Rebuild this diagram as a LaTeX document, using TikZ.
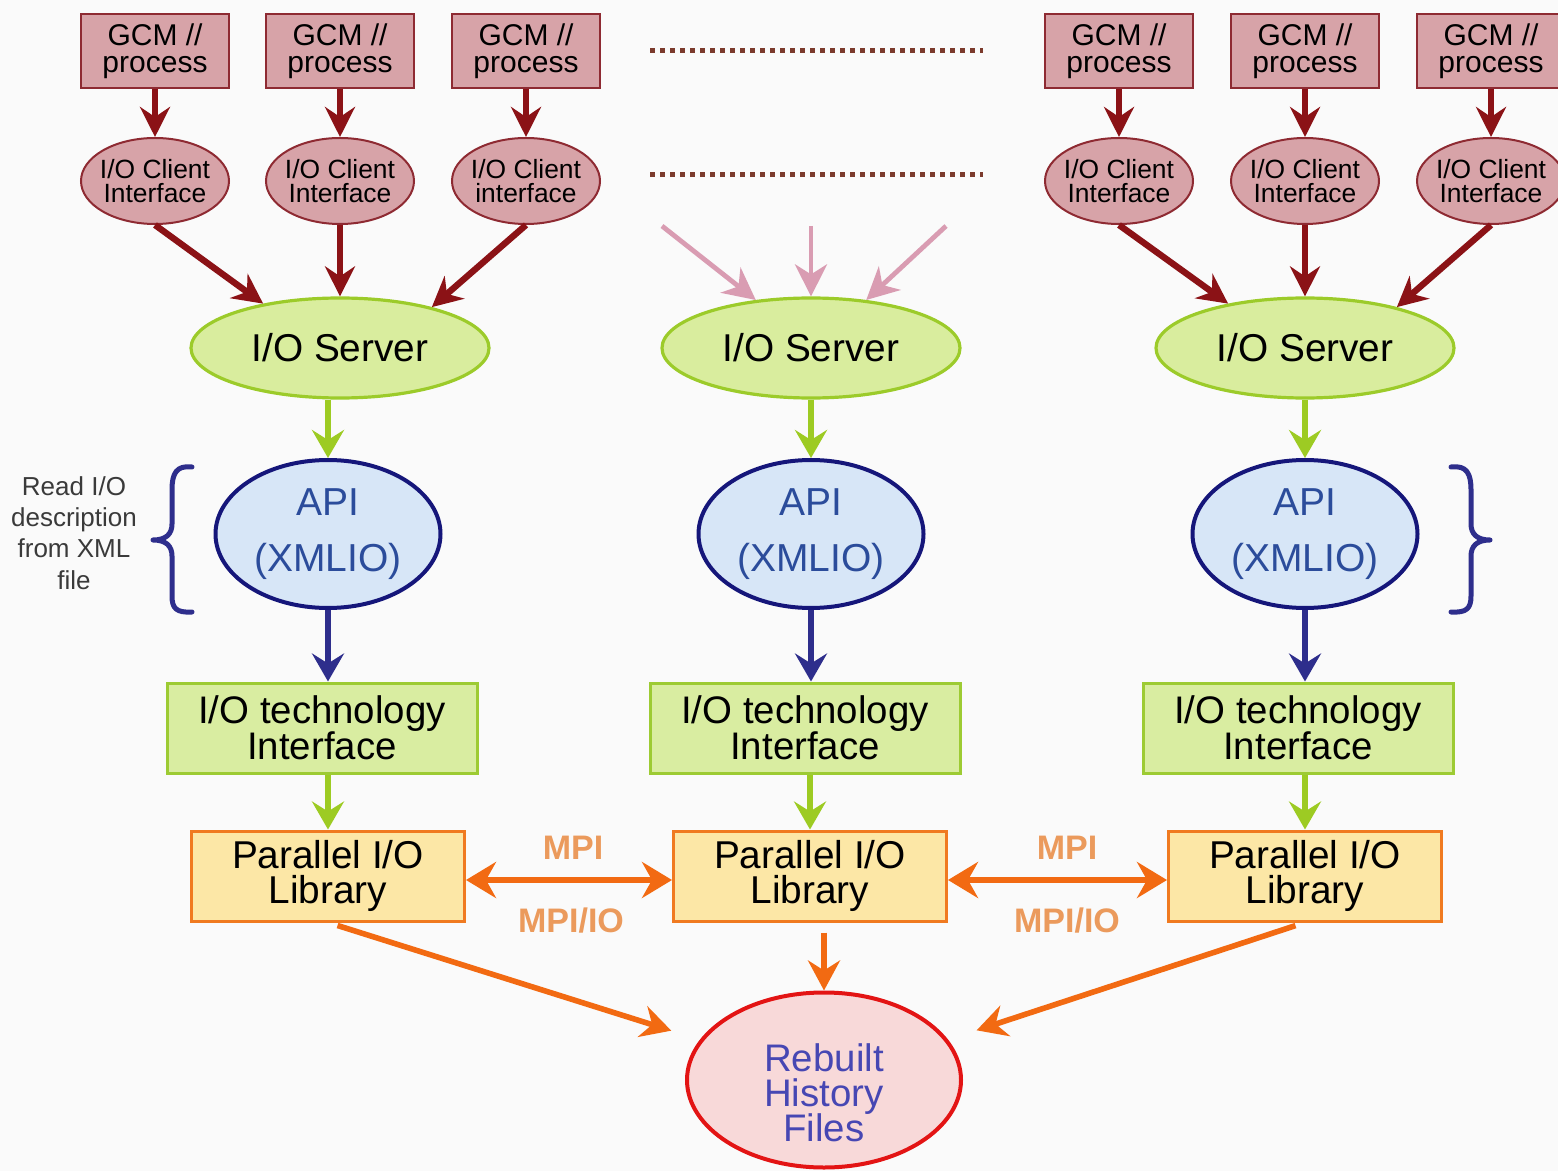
\documentclass[tikz,border=0pt]{standalone}
\usepackage{fontspec}
\setmainfont{Liberation Sans}
\usetikzlibrary{arrows.meta,shapes.geometric,calc}
\newcommand\tightlines{\lineskiplimit=-20pt\relax}
\definecolor{gcmfill}{HTML}{D7A3A8}
\definecolor{gcmdraw}{HTML}{8E2A32}
\definecolor{darkred}{HTML}{8B1216}
\definecolor{srvfill}{HTML}{D9ED9E}
\definecolor{srvdraw}{HTML}{9CCB2A}
\definecolor{grn}{HTML}{9DCB23}
\definecolor{apifill}{HTML}{D7E6F7}
\definecolor{apidraw}{HTML}{15167A}
\definecolor{apitext}{HTML}{2B4C9B}
\definecolor{navy}{HTML}{2E2E8C}
\definecolor{techfill}{HTML}{D9EDA1}
\definecolor{techdraw}{HTML}{9DCB33}
\definecolor{parfill}{HTML}{FCE7A6}
\definecolor{pardraw}{HTML}{F07A20}
\definecolor{orng}{HTML}{F26A12}
\definecolor{mpitext}{HTML}{EB9A5C}
\definecolor{rebfill}{HTML}{F8D9D9}
\definecolor{rebdraw}{HTML}{E31414}
\definecolor{rebtext}{HTML}{4747B3}
\definecolor{dotc}{HTML}{7B3A2C}
\definecolor{pinkarr}{HTML}{D99CB2}
\definecolor{bg}{HTML}{FAFAFA}
\begin{document}
\begin{tikzpicture}[x=0.5pt,y=-0.5pt,
  gcm/.style={rectangle,draw=gcmdraw,fill=gcmfill,line width=1pt,minimum width=74pt,minimum height=37pt,inner sep=0pt,align=center,font={\fontsize{15}{13.5}\selectfont\tightlines}},
  client/.style={ellipse,draw=gcmdraw,fill=gcmfill,line width=1pt,minimum width=74pt,minimum height=43pt,inner sep=-6pt,align=center,font={\fontsize{13.2}{12}\selectfont\tightlines}},
  server/.style={ellipse,draw=srvdraw,fill=srvfill,line width=1.6pt,minimum width=149pt,minimum height=50pt,inner sep=0pt,font={\fontsize{19.4}{20}\selectfont}},
  api/.style={ellipse,draw=apidraw,fill=apifill,line width=2pt,minimum width=112.5pt,minimum height=74pt,inner sep=0pt,align=center,text=apitext,font={\fontsize{19.5}{28}\selectfont}},
  tech/.style={rectangle,draw=techdraw,fill=techfill,line width=1.5pt,minimum width=155pt,minimum height=45pt,inner sep=0pt,align=center,font={\fontsize{19.2}{18}\selectfont\tightlines}},
  par/.style={rectangle,draw=pardraw,fill=parfill,line width=1.5pt,minimum width=136.5pt,minimum height=45pt,inner sep=0pt,align=center,font={\fontsize{19.4}{17.5}\selectfont\tightlines}},
  mpilbl/.style={text=mpitext,font={\bfseries\fontsize{17}{17}\selectfont},inner sep=0pt},
  redarr/.style={draw=darkred,line width=3.2pt,-{Stealth[length=15pt,width=15pt,inset=5pt]}},
  pinkar/.style={draw=pinkarr,line width=2.4pt,-{Stealth[length=16pt,width=16pt,inset=5pt]}},
  grnarr/.style={draw=grn,line width=3pt,-{Stealth[length=14pt,width=16pt,inset=5pt]}},
  bluarr/.style={draw=navy,line width=3pt,-{Stealth[length=14pt,width=16pt,inset=5pt]}},
  orarr/.style={draw=orng,line width=2.8pt,-{Stealth[length=15pt,width=16pt,inset=5pt]}},
  orboth/.style={draw=orng,line width=3.2pt,{Stealth[length=15pt,width=18pt,inset=5pt]}-{Stealth[length=15pt,width=18pt,inset=5pt]}},
  dotline/.style={draw=dotc,line width=2.5pt,dash pattern=on 2.5pt off 2.5pt},
  bracel/.style={draw=navy,line width=2.5pt,line cap=round,line join=round}
]
\fill[bg] (0,0) rectangle (1558,1171);
\useasboundingbox (0,0) rectangle (1558,1171);
\begin{scope}
\clip (0,0) rectangle (1558,1171);
% GCM boxes
\foreach \i/\x in {1/155,2/340,3/526,4/1119,5/1305,6/1491}{
  \node[gcm] (g\i) at (\x,51) {GCM //\\process};
}
\node[client] (c1) at (155,181) {I/O Client\\Interface};
\node[client] (c2) at (340,181) {I/O Client\\Interface};
\node[client] (c3) at (526,181) {I/O Client\\interface};
\node[client] (c4) at (1119,181) {I/O Client\\Interface};
\node[client] (c5) at (1305,181) {I/O Client\\Interface};
\node[client] (c6) at (1491,181) {I/O Client\\Interface};
\foreach \i in {1,...,6}{ \draw[redarr] (g\i.south) -- (c\i.north); }
\end{scope}
% dotted lines
\draw[dotline] (650,51) -- (983,51);
\draw[dotline] (650,175) -- (983,175);
% servers
\node[server] (s1) at (340,348) {I/O Server};
\node[server] (s2) at (811,348) {I/O Server};
\node[server] (s3) at (1305,348) {I/O Server};
\draw[redarr] (c1.south) -- (s1.150);
\draw[redarr] (c2.south) -- (s1.north);
\draw[redarr] (c3.south) -- (s1.24);
\draw[redarr] (c4.south) -- (s3.150);
\draw[redarr] (c5.south) -- (s3.north);
\draw[redarr] (c6.south) -- (s3.24);
\coordinate (m1) at (662,226);
\coordinate (m2) at (811,226);
\coordinate (m3) at (946,226);
\draw[pinkar] (m1) -- (s2.139);
\draw[pinkar] (m2) -- (s2.north);
\draw[pinkar] (m3) -- (s2.41);
% API
\node[api] (a1) at (328,534) {API\\(XMLIO)};
\node[api] (a2) at (811,534) {API\\(XMLIO)};
\node[api] (a3) at (1305,534) {API\\(XMLIO)};
\draw[grnarr] (a1.north |- s1.south) -- (a1.north);
\draw[grnarr] (s2.south) -- (a2.north);
\draw[grnarr] (s3.south) -- (a3.north);
% tech
\node[tech] (t1) at (322,728) {I/O technology\\Interface};
\node[tech] (t2) at (805,728) {I/O technology\\Interface};
\node[tech] (t3) at (1298,728) {I/O technology\\Interface};
\draw[bluarr] (a1.south) -- (a1.south |- t1.north);
\draw[bluarr] (a2.south) -- (a2.south |- t2.north);
\draw[bluarr] (a3.south) -- (a3.south |- t3.north);
% parallel
\node[par] (p1) at (328,876) {Parallel I/O\\Library};
\node[par] (p2) at (810,876) {Parallel I/O\\Library};
\node[par] (p3) at (1305,876) {Parallel I/O\\Library};
\draw[grnarr] (p1.north |- t1.south) -- (p1.north);
\draw[grnarr] (p2.north |- t2.south) -- (p2.north);
\draw[grnarr] (p3.north |- t3.south) -- (p3.north);
\draw[orboth] ($(p1.east)+(0,4)$) -- ($(p2.west)+(0,4)$);
\draw[orboth] ($(p2.east)+(0,4)$) -- ($(p3.west)+(0,4)$);
\node[mpilbl] (l1) at (573,848) {MPI};
\node[mpilbl] (l2) at (571,921) {MPI/IO};
\node[mpilbl] (l3) at (1067,848) {MPI};
\node[mpilbl] (l4) at (1067,921) {MPI/IO};
% rebuilt
\node[ellipse,draw=rebdraw,fill=rebfill,line width=2pt,minimum width=137pt,minimum height=87.5pt,inner sep=0pt] (r) at (824,1080) {};
\node[align=center,text=rebtext,font={\fontsize{19.2}{17.5}\selectfont\tightlines},inner sep=0pt] (rt) at (824,1093) {Rebuilt\\History\\Files};
\draw[orarr,shorten <=5pt,shorten >=15pt] (p1.south) -- (r.162);
\draw[orarr,shorten <=5pt] (r.north |- p2.south) -- (r.north);
\draw[orarr,shorten <=5pt,shorten >=15pt] (p3.south) -- (r.18);
% braces
\draw[bracel] (192,467) .. controls (176,465) and (172,474) .. (172,490) -- (172,524) .. controls (172,534) and (166,540) .. (153,540) .. controls (166,540) and (172,546) .. (172,556) -- (172,596) .. controls (172,608) and (176,613) .. (192,612);
\draw[bracel] (1451,467) .. controls (1467,465) and (1471,474) .. (1471,490) -- (1471,524) .. controls (1471,534) and (1477,540) .. (1490,540) .. controls (1477,540) and (1471,546) .. (1471,556) -- (1471,596) .. controls (1471,608) and (1467,613) .. (1451,612);
\node[align=center,text={rgb,255:red,58;green,58;blue,58},font={\fontsize{13}{15.6}\selectfont},inner sep=0pt] (rd) at (74,533) {Read I/O\\description\\from XML\\file};
\end{tikzpicture}
\end{document}
